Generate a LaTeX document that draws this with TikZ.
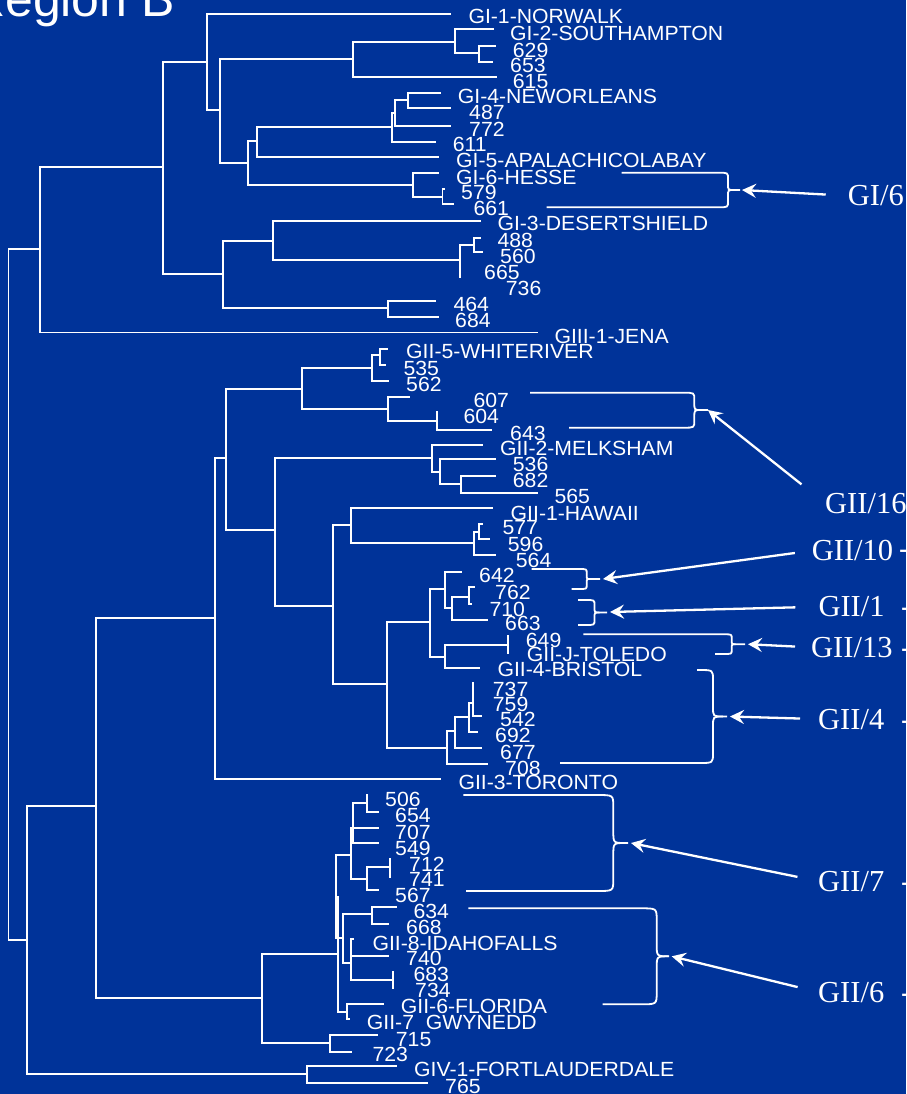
\documentclass[tikz,border=0pt]{standalone}
\usepackage{fontspec}
\setmainfont{Liberation Sans}
\newfontfamily\labf[FakeStretch=1.035]{Liberation Sans}
\newfontfamily\serifb{Liberation Serif}
\usetikzlibrary{arrows.meta}
\definecolor{bg}{RGB}{0,51,153}
\newcommand\vseg[3]{\draw[br] (#1,#2) -- (#1,#3);}
\newcommand\hseg[3]{\draw[br] (#1,#3) -- (#2,#3);}
% right brace: xt yt xb yb xspine ymid xtip radius
\newcommand\rbr[8]{%
 \draw[brc] (#1,#2) -- ({#5-#8-4},#2) .. controls (#5,#2) .. (#5,{#2+#8}) -- (#5,{#6-#8}) .. controls (#5,#6) .. ({#5+#8},#6) -- (#7,#6);
 \draw[brc] (#3,#4) -- ({#5-#8-4},#4) .. controls (#5,#4) .. (#5,{#4-#8}) -- (#5,{#6+#8}) .. controls (#5,#6) .. ({#5+#8},#6);}
\begin{document}
\begin{tikzpicture}[x=1pt,y=-1pt,
  br/.style={draw=white,line width=1.8pt,line cap=rect},
  brc/.style={draw=white,line width=1.8pt},
  lab/.style={text=white,anchor=base west,inner sep=0pt,font=\labf\fontsize{20.5}{22}\selectfont},
  grp/.style={text=white,anchor=base west,inner sep=0pt,font=\serifb\fontsize{30.5}{32}\selectfont},
  arr/.style={draw=white,line width=2.3pt,-{Stealth[length=14pt,width=14pt,inset=5pt]}}]
\fill[bg] (0,0) rectangle (906,1094);
\useasboundingbox (0,0) rectangle (906,1094);
\node[text=white,anchor=base east,inner sep=0pt,font=\fontsize{50}{56}\selectfont] (title) at (175,17) {Region B};
% ---------------- GI / GIII ----------------
\vseg{8.5}{249.3}{940}
\hseg{8.5}{40}{249.3}
\vseg{40}{166.7}{332.5}
\hseg{40}{162.7}{166.7}
\hseg{40}{536.7}{332.5}
\vseg{162.7}{62}{274}
\hseg{162.7}{207.3}{62}
\vseg{207.3}{14}{110}
\hseg{207.3}{450}{14}
\hseg{207.3}{220}{110}
\vseg{220}{59.3}{163}
\hseg{220}{353}{59.3}
\vseg{353}{41.7}{77.3}
\hseg{353}{455}{41.7}
\vseg{455}{29.3}{52.7}
\hseg{455}{492.7}{29.3}
\hseg{455}{479}{52.7}
\vseg{479}{45.7}{62}
\hseg{479}{495}{45.7}
\hseg{479}{492}{62}
\hseg{353}{495.7}{77.3}
\hseg{220}{248.3}{163}
\vseg{248.3}{141}{185}
\hseg{248.3}{257}{141}
\vseg{257}{127}{157}
\hseg{257}{392.3}{127}
\hseg{257}{437.7}{157}
\vseg{392.3}{112.7}{142.3}
\hseg{392.3}{395}{112.7}
\hseg{392.3}{435}{142.3}
\vseg{395}{100}{125.7}
\hseg{395}{408}{100}
\hseg{395}{450}{125.7}
\vseg{408}{93.3}{108.3}
\hseg{408}{440}{93.3}
\hseg{408}{450}{108.3}
\hseg{248.3}{413.3}{185}
\vseg{413.3}{172.7}{196.7}
\hseg{413.3}{437.7}{172.7}
\hseg{413.3}{442.5}{196.7}
\vseg{442.5}{189}{204.3}
\hseg{442.5}{444}{189}
\hseg{442.5}{452.7}{204.3}
\hseg{162.7}{222.7}{274}
\vseg{222.7}{240.7}{308.3}
\hseg{222.7}{272.7}{240.7}
\vseg{272.7}{221}{260}
\hseg{272.7}{480}{221}
\hseg{272.7}{460}{260}
\vseg{460}{245}{277.3}
\hseg{460}{474}{245}
\vseg{474}{238.3}{252.3}
\hseg{474}{480}{238.3}
\hseg{474}{481.7}{252.3}
\hseg{222.7}{387.7}{308.3}
\vseg{387.7}{301}{316.7}
\hseg{387.7}{435}{301}
\hseg{387.7}{437.7}{316.7}
% ---------------- GII ----------------
\hseg{8.5}{27}{940}
\vseg{27}{806}{1074}
\hseg{27}{96}{806}
\vseg{96}{618}{998.3}
\hseg{96}{215}{618}
\vseg{215}{457.7}{779}
\hseg{215}{440}{779}
\hseg{215}{226}{457.7}
\vseg{226}{389.3}{530}
\hseg{226}{301.7}{389.3}
\vseg{301.7}{368.3}{409}
\hseg{301.7}{371.7}{368.3}
\vseg{371.7}{355}{380.7}
\hseg{371.7}{380}{355}
\vseg{380}{349.3}{365}
\hseg{380}{387.3}{349.3}
\hseg{380}{385}{365}
\hseg{371.7}{388.3}{380.7}
\hseg{301.7}{387.7}{409}
\vseg{387.7}{396.7}{420.7}
\hseg{387.7}{409}{396.7}
\hseg{387.7}{437.3}{420.7}
\vseg{437.3}{411.7}{430}
\hseg{437.3}{490.7}{430}
\hseg{226}{275}{530}
\vseg{275}{457.7}{606}
\hseg{275}{431.7}{457.7}
\vseg{431.7}{445}{472.3}
\hseg{431.7}{481.7}{445}
\hseg{431.7}{440}{472.3}
\vseg{440}{459.3}{484}
\hseg{440}{495}{459.3}
\hseg{440}{460.7}{484}
\vseg{460.7}{476}{493.3}
\hseg{460.7}{495}{476}
\hseg{460.7}{536.7}{493.3}
\hseg{275}{332.7}{606}
\vseg{332.7}{525}{684.3}
\hseg{332.7}{351}{525}
\vseg{351}{508.3}{543.3}
\hseg{351}{491.7}{508.3}
\hseg{351}{474}{543.3}
\vseg{474}{532.3}{555}
\hseg{474}{479.3}{532.3}
\vseg{479.3}{524}{539.3}
\hseg{479.3}{482.3}{524}
\hseg{479.3}{489.3}{539.3}
\hseg{474}{495}{555}
\hseg{332.7}{386.7}{684.3}
\vseg{386.7}{622.3}{748.3}
\hseg{386.7}{430}{622.3}
\vseg{430}{589.3}{656.7}
\hseg{430}{445}{589.3}
\vseg{445}{571.7}{608.3}
\hseg{445}{460.7}{571.7}
\hseg{445}{452.3}{608.3}
\vseg{452.3}{597.3}{620}
\hseg{452.3}{469}{597.3}
\vseg{469}{587.3}{604.3}
\hseg{469}{474}{587.3}
\hseg{469}{471}{604.3}
\hseg{452.3}{487.3}{620}
\hseg{430}{445}{656.7}
\vseg{445}{645}{668.3}
\hseg{445}{507.7}{645}
\vseg{507.7}{636}{652.7}
\hseg{445}{479.3}{668.3}
\hseg{386.7}{447.3}{748.3}
\vseg{447.3}{731}{764}
\hseg{447.3}{487.3}{764}
\hseg{447.3}{455}{731}
\vseg{455}{716.7}{748.3}
\hseg{455}{481}{748.3}
\hseg{455}{469.3}{716.7}
\vseg{469.3}{702.7}{731.7}
\hseg{469.3}{477.3}{731.7}
\hseg{469.3}{473.3}{702.7}
\vseg{473.3}{683.3}{715.7}
\hseg{473.3}{481}{715.7}
\hseg{96}{262.3}{998.3}
\vseg{262.3}{954}{1042.7}
\hseg{262.3}{338.3}{954}
\vseg{338.3}{896.7}{1011.7}
\hseg{335.7}{338.3}{896.7}
\vseg{335.7}{855}{938}
\hseg{335.7}{350.7}{855}
\vseg{350.7}{828.3}{879.3}
\hseg{350.7}{353.3}{828.3}
\vseg{353.3}{803.3}{842.7}
\hseg{353.3}{366.7}{803.3}
\vseg{366.7}{795}{811.7}
\hseg{366.7}{377.7}{811.7}
\hseg{353.3}{377.7}{827.7}
\hseg{353.3}{377.7}{842.7}
\hseg{350.7}{366.7}{879.3}
\vseg{366.7}{867.3}{890}
\hseg{366.7}{390}{867.3}
\vseg{390}{859.3}{876.7}
\hseg{366.7}{377.7}{890}
\hseg{335.7}{342.7}{938}
\vseg{342.7}{914.3}{963.3}
\hseg{342.7}{371.7}{914.3}
\vseg{371.7}{907.3}{924}
\hseg{371.7}{395.7}{907.3}
\hseg{371.7}{387.7}{924}
\hseg{342.7}{350.7}{963.3}
\vseg{350.7}{939.3}{980}
\hseg{350.7}{353.3}{939.3}
\hseg{350.7}{387.7}{955.7}
\hseg{350.7}{393.3}{980}
\vseg{393.3}{971.7}{988.3}
\hseg{338.3}{346.7}{1011.7}
\vseg{346.7}{1004.3}{1019}
\hseg{346.7}{382.7}{1004.3}
\hseg{346.7}{349}{1019}
\hseg{262.3}{330}{1042.7}
\vseg{330}{1035}{1051.7}
\hseg{330}{376.7}{1035}
\hseg{330}{351}{1051.7}
\hseg{27}{306.7}{1074}
\vseg{306.7}{1065.7}{1082.7}
\hseg{306.7}{395.7}{1065.7}
\hseg{306.7}{426.7}{1082.7}
% ---------------- leaf labels ----------------
\node[lab] (l1) at (468.3,23.3) {GI-1-NORWALK};
\node[lab] (l2) at (510,41) {GI-2-SOUTHAMPTON};
\node[lab] (l3) at (512.7,57.3) {629};
\node[lab] (l4) at (510,72.7) {653};
\node[lab] (l5) at (512.7,88.3) {615};
\node[lab] (l6) at (457.7,104) {GI-4-NEWORLEANS};
\node[lab] (l7) at (469,120) {487};
\node[lab] (l8) at (469,136.7) {772};
\node[lab] (l9) at (452.7,151.7) {611};
\node[lab] (l10) at (456,167.3) {GI-5-APALACHICOLABAY};
\node[lab] (l11) at (456,185) {GI-6-HESSE};
\node[lab] (l12) at (461,200) {579};
\node[lab] (l13) at (473.3,215.7) {661};
\node[lab] (l14) at (497.3,230.7) {GI-3-DESERTSHIELD};
\node[lab] (l15) at (497.3,247.3) {488};
\node[lab] (l16) at (500,263.3) {560};
\node[lab] (l17) at (484,279.3) {665};
\node[lab] (l18) at (505.7,295) {736};
\node[lab] (l19) at (453.3,311.7) {464};
\node[lab] (l20) at (455,327.3) {684};
\node[lab] (l21) at (554.3,343.3) {GIII-1-JENA};
\node[lab] (l22) at (406,358.3) {GII-5-WHITERIVER};
\node[lab] (l23) at (403.3,375.7) {535};
\node[lab] (l24) at (406,391.7) {562};
\node[lab] (l25) at (473.3,407.7) {607};
\node[lab] (l26) at (463.3,423.3) {604};
\node[lab] (l27) at (510,440) {643};
\node[lab] (l28) at (500,455) {GII-2-MELKSHAM};
\node[lab] (l29) at (512.7,471.7) {536};
\node[lab] (l30) at (512.7,487.3) {682};
\node[lab] (l31) at (554.3,503.3) {565};
\node[lab] (l32) at (510.5,520) {GII-1-HAWAII};
\node[lab] (l33) at (502.3,534.3) {577};
\node[lab] (l34) at (507.7,551.7) {596};
\node[lab] (l35) at (515.7,567.7) {564};
\node[lab] (l36) at (479,582.7) {642};
\node[lab] (l37) at (495,599) {762};
\node[lab] (l38) at (489.3,616) {710};
\node[lab] (l39) at (505,630) {663};
\node[lab] (l40) at (525.7,647.3) {649};
\node[lab] (l41) at (526.7,661.7) {GII-J-TOLEDO};
\node[lab] (l42) at (497.3,676.7) {GII-4-BRISTOL};
\node[lab] (l43) at (492.7,696.7) {737};
\node[lab] (l44) at (492.7,711.7) {759};
\node[lab] (l45) at (500,726.7) {542};
\node[lab] (l46) at (495,742.7) {692};
\node[lab] (l47) at (500,759) {677};
\node[lab] (l48) at (505,775) {708};
\node[lab] (l49) at (458.3,789.3) {GII-3-TORONTO};
\node[lab] (l50) at (385,806.7) {506};
\node[lab] (l51) at (395,822.3) {654};
\node[lab] (l52) at (395,839.3) {707};
\node[lab] (l53) at (395,855) {549};
\node[lab] (l54) at (409,871) {712};
\node[lab] (l55) at (409,886) {741};
\node[lab] (l56) at (395,902.3) {567};
\node[lab] (l57) at (413.3,918.3) {634};
\node[lab] (l58) at (406,934.3) {668};
\node[lab] (l59) at (372.3,950.7) {GII-8-IDAHOFALLS};
\node[lab] (l60) at (406,965.7) {740};
\node[lab] (l61) at (413.3,981.7) {683};
\node[lab] (l62) at (415,997.3) {734};
\node[lab] (l63) at (400.7,1013.3) {GII-6-FLORIDA};
\node[lab] (l64) at (366.7,1029) {GII-7\ \ GWYNEDD};
\node[lab] (l65) at (395.7,1046.7) {715};
\node[lab] (l66) at (372.3,1061.7) {723};
\node[lab] (l67) at (414,1076.7) {GIV-1-FORTLAUDERDALE};
\node[lab] (l68) at (445,1093.3) {765};
% ---------------- braces ----------------
\rbr{621.7}{172.7}{546.7}{207.3}{728}{190}{740}{6}
\coordinate (tGI6) at (742,190);
\rbr{530}{392.7}{569}{427.7}{694.3}{410}{708}{7}
\coordinate (tGII16) at (708,410);
\rbr{531.7}{569}{571.7}{589}{586.7}{579}{600}{4}
\coordinate (tGII10) at (603,579);
\rbr{578}{600}{578}{625}{594.5}{612.5}{607}{5}
\coordinate (tGII1) at (610,612);
\rbr{583.3}{634.3}{715}{654}{731.7}{644.2}{745}{4}
\coordinate (tGII13) at (748,644.2);
\rbr{697}{670}{560}{763}{713}{716.5}{727}{10}
\coordinate (tGII4) at (730,716.5);
\rbr{463.3}{795}{466}{891}{613.3}{843}{628}{12}
\coordinate (tGII7) at (631,843);
\rbr{468.3}{908.3}{602.7}{1004.3}{656.7}{956.3}{669}{12}
\coordinate (tGII6) at (671.7,956.3);
% ---------------- group labels ----------------
\node[grp] (gGI6) at (847.7,205.7) {GI/6};
\node[grp] (gGII16) at (825,513) {GII/16};
\node[grp] (gGII10) at (811.7,560.7) {GII/10};
\node[grp] (gGII1) at (818.3,616.7) {GII/1};
\node[grp] (gGII13) at (811,657.3) {GII/13};
\node[grp] (gGII4) at (818,729) {GII/4};
\node[grp] (gGII7) at (818,891) {GII/7};
\node[grp] (gGII6) at (818,1002) {GII/6};
\node[grp] (d0) at (899,558) {-};
\node[grp] (d1) at (901,616.7) {-};
\node[grp] (d2) at (901,657.3) {-};
\node[grp] (d3) at (901,729) {-};
\node[grp] (d4) at (901,891) {-};
\node[grp] (d5) at (901,1002) {-};
\draw[arr,shorten <=22pt] (gGI6.west) -- (tGI6);
\draw[arr,shorten <=30pt] (gGII16.west) -- (tGII16);
\draw[arr,shorten <=17pt] (gGII10.west) -- (tGII10);
\draw[arr,shorten <=23pt] (gGII1.west) -- (tGII1);
\draw[arr,shorten <=16pt] (gGII13.west) -- (tGII13);
\draw[arr,shorten <=18pt] (gGII4.west) -- (tGII4);
\draw[arr,shorten <=21pt] (gGII7.west) -- (tGII7);
\draw[arr,shorten <=21pt] (gGII6.west) -- (tGII6);
\end{tikzpicture}
\end{document}
